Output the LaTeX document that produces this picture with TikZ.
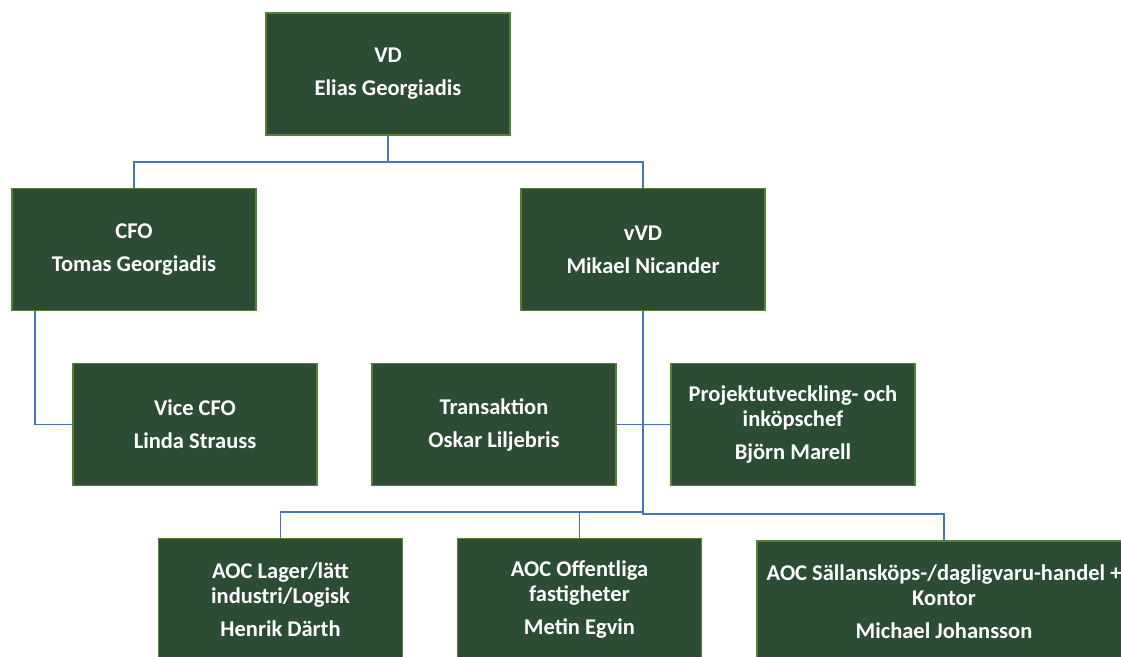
\documentclass[tikz,border=0pt]{standalone}
\usepackage{fontspec}
\setmainfont{Carlito}
\definecolor{boxfill}{RGB}{44,76,52}
\definecolor{boxline}{RGB}{84,130,53}
\definecolor{linkblue}{RGB}{68,114,196}
\tikzset{
  orgbox/.style={draw=boxline, line width=1.6pt, fill=boxfill, text=white,
    font=\bfseries\fontsize{22.5}{25}\selectfont, align=center, inner sep=0pt,
    minimum width=244pt, minimum height=122pt},
  link/.style={draw=linkblue, line width=1.6pt}
}
\begin{document}
\begin{tikzpicture}[x=1pt,y=-1pt]
					\useasboundingbox (0,0) rectangle (1121,656);
					\clip (0,0) rectangle (1121,656);
					\node[orgbox] (VD) at (388,74) {VD\\[8pt]Elias Georgiadis};
					\node[orgbox] (CFO) at (134,249.5) {CFO\\[8pt]Tomas Georgiadis};
					\node[orgbox] (vVD) at (643,249.5) {vVD\\[8pt]Mikael Nicander};
					\node[orgbox] (ViceCFO) at (195,424.5) {Vice CFO\\[8pt]Linda Strauss};
					\node[orgbox] (Trans) at (494,424.5) {Transaktion\\[8pt]Oskar Liljebris};
					\node[orgbox] (Proj) at (793,424.5) {Projektutveckling- och\\inköpschef\\[8pt]Björn Marell};
					\node[orgbox] (Lager) at (280.5,599.5) {AOC Lager/lätt\\industri/Logisk\\[8pt]Henrik Därth};
					\node[orgbox] (Offentliga) at (579.5,599.5) {AOC Offentliga\\fastigheter\\[8pt]Metin Egvin};
					\node[orgbox, minimum width=374pt] (Handel) at (944,602) {AOC Sällansköps-/dagligvaru-handel +\\Kontor\\[8pt]Michael Johansson};
					\coordinate (lagerbus) at (643,512);
					\coordinate (handelbus) at (643,514);
					% Linjer mellan rutorna
					\draw[link] (VD.south) -- ++(0,26) -| (CFO.north);
					\draw[link] (VD.south) -- ++(0,26) -| (vVD.north);
					\draw[link] ([xshift=24pt]CFO.south west) |- (ViceCFO.west);
					\draw[link] (Trans.east) -- (Proj.west);
					\draw[link] (vVD.south) -- (handelbus) -| (Handel.north);
					\draw[link] (vVD.south) -- (lagerbus) -| (Lager.north);
					\draw[link] (Offentliga.north) -- (Offentliga.north |- lagerbus);
		\end{tikzpicture}
\end{document}
